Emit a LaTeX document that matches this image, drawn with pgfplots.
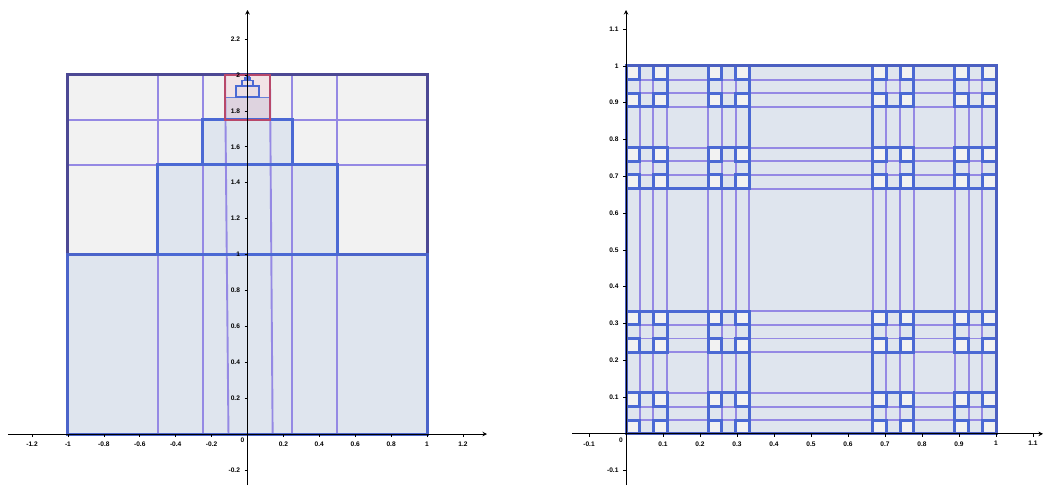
\documentclass[border=0pt]{standalone}
\usepackage{fontspec}
\setmainfont{Liberation Sans}
\usepackage{pgfplots}
\pgfplotsset{compat=1.18}
\usetikzlibrary{arrows.meta}
\definecolor{bluefill}{HTML}{DFE5EE}
\definecolor{grayfill}{HTML}{F2F2F2}
\definecolor{thickblue}{HTML}{4B69D4}
\definecolor{thincol}{HTML}{9589E4}
\definecolor{outercol}{HTML}{4C4894}
\definecolor{redcol}{HTML}{B8486A}
\definecolor{pinkup}{HTML}{F2E3E6}
\definecolor{pinklow}{HTML}{DED3DF}
\definecolor{pinksmall}{HTML}{E9DDE4}
\tikzset{
  thinline/.style={draw=thincol, line width=1.9pt},
  thickline/.style={draw=thickblue, line width=3pt, line join=miter},
}
\pgfplotsset{
  geo/.style={
    scale only axis, axis lines=middle, axis on top,
    axis line style={black, line width=1pt, -{Stealth[length=4.5pt,width=4.5pt]}},
    tick align=outside, major tick length=3pt,
    tick style={black, line width=0.7pt},
    /pgf/number format/assume math mode=true,
    ticklabel style={font=\fontsize{6.6}{7}\selectfont\bfseries},
    xticklabel style={yshift=-1pt},
    yticklabel style={xshift=-1pt},
    xticklabel={\pgfmathprintnumber{\tick}},
    yticklabel={\pgfmathprintnumber{\tick}},
  }
}
\def\Cone{0/0.333333,0.666667/1}
\def\Ctwo{0/0.111111,0.222222/0.333333,0.666667/0.777778,0.888889/1}
\def\Cthree{0/0.037037,0.074074/0.111111,0.222222/0.259259,0.296296/0.333333,0.666667/0.703704,0.740741/0.777778,0.888889/0.925926,0.962963/1}
\def\Ends{0.037037,0.074074,0.111111,0.222222,0.259259,0.296296,0.333333,0.666667,0.703704,0.740741,0.777778,0.888889,0.925926,0.962963}
\begin{document}
\begin{tikzpicture}
\useasboundingbox (0,0) rectangle (1043pt,485pt);
% ---------------- left chart ----------------
\begin{axis}[geo, at={(8pt,0pt)}, anchor=south west,
  width=479pt, height=475pt,
  xmin=-1.334, xmax=1.334, ymin=-0.284, ymax=2.362,
  xtick={-1.2,-1,-0.8,-0.6,-0.4,-0.2,0.2,0.4,0.6,0.8,1,1.2},
  ytick={-0.2,0.2,0.4,0.6,0.8,1,1.2,1.4,1.6,1.8,2,2.2}]
\addplot[draw=none, fill=grayfill] coordinates {(-1,1)(1,1)(1,2)(-1,2)} -- cycle;
\addplot[draw=none, fill=bluefill] coordinates {(-1,0)(1,0)(1,1)(-1,1)} -- cycle;
\addplot[draw=none, fill=bluefill] coordinates {(-0.5,1)(0.5,1)(0.5,1.5)(-0.5,1.5)} -- cycle;
\addplot[draw=none, fill=bluefill] coordinates {(-0.25,1.5)(0.25,1.5)(0.25,1.75)(-0.25,1.75)} -- cycle;
\addplot[draw=none, fill=pinklow] coordinates {(-0.125,1.75)(0.125,1.75)(0.125,1.875)(-0.125,1.875)} -- cycle;
\addplot[draw=none, fill=pinkup] coordinates {(-0.125,1.875)(0.125,1.875)(0.125,2)(-0.125,2)} -- cycle;
% thin lines
\addplot[thinline] coordinates {(-0.5,0)(-0.5,2)};
\addplot[thinline] coordinates {(-0.25,0)(-0.25,2)};
\addplot[thinline] coordinates {(-0.106,0)(-0.125,2)};
\addplot[thinline] coordinates {(0.14,0)(0.125,2)};
\addplot[thinline] coordinates {(0.25,0)(0.25,2)};
\addplot[thinline] coordinates {(0.5,0)(0.5,2)};
\addplot[thinline] coordinates {(-1,1.5)(1,1.5)};
\addplot[thinline] coordinates {(-1,1.75)(1,1.75)};
\addplot[draw=thickblue!85, line width=1.8pt] coordinates {(-0.125,1.875)(0.125,1.875)};
% outer square
\addplot[draw=outercol, line width=3pt, line join=miter] coordinates {(-1,0)(1,0)(1,2)(-1,2)} -- cycle;
% thick boxes
\addplot[draw=thickblue!85!outercol, line width=3pt, line join=miter] coordinates {(-1,0)(1,0)(1,1)(-1,1)} -- cycle;
\addplot[thickline] coordinates {(-0.5,1)(0.5,1)(0.5,1.5)(-0.5,1.5)} -- cycle;
\addplot[thickline] coordinates {(-0.25,1.5)(0.25,1.5)(0.25,1.75)(-0.25,1.75)} -- cycle;
\addplot[draw=redcol, line width=2pt, line join=miter] coordinates {(-0.125,1.75)(0.125,1.75)(0.125,2)(-0.125,2)} -- cycle;
\addplot[draw=thickblue, fill=pinksmall, line width=2pt, line join=miter] coordinates {(-0.0625,1.875)(0.0625,1.875)(0.0625,1.9375)(-0.0625,1.9375)} -- cycle;
\addplot[draw=thickblue, fill=pinksmall, line width=1.8pt, line join=miter] coordinates {(-0.03125,1.9375)(0.03125,1.9375)(0.03125,1.96875)(-0.03125,1.96875)} -- cycle;
\addplot[draw=thickblue, fill=thickblue, line width=1.5pt, line join=miter] coordinates {(-0.015625,1.96875)(0.015625,1.96875)(0.015625,1.984375)(-0.015625,1.984375)} -- cycle;
\addplot[draw=thickblue, fill=thickblue, line width=1.2pt, line join=miter] coordinates {(-0.0078,1.984375)(0.0078,1.984375)(0.0078,1.992)(-0.0078,1.992)} -- cycle;
\node[anchor=north east, font=\fontsize{6.6}{7}\selectfont\bfseries, inner sep=0pt] at (axis cs:0,0) [xshift=-3pt, yshift=-4pt] {0};
\end{axis}
% ---------------- right chart ----------------
\begin{axis}[geo, at={(572pt,0pt)}, anchor=south west,
  width=471pt, height=475pt,
  xmin=-0.146, xmax=1.127, ymin=-0.139, ymax=1.152,
  xtick={-0.1,0.1,0.2,0.3,0.4,0.5,0.6,0.7,0.8,0.9,1,1.1},
  ytick={-0.1,0.1,0.2,0.3,0.4,0.5,0.6,0.7,0.8,0.9,1,1.1}]
\addplot[draw=none, fill=bluefill] coordinates {(0,0)(1,0)(1,1)(0,1)} -- cycle;
\foreach \a/\b in \Cthree {
  \foreach \c/\d in \Cthree {
    \edef\temp{\noexpand\addplot[draw=none, fill=grayfill] coordinates {(\a,\c)(\b,\c)(\b,\d)(\a,\d)} -- cycle;}\temp
  }
}
\foreach \e in \Ends {
  \edef\temp{\noexpand\addplot[thinline] coordinates {(\e,0)(\e,1)};
    \noexpand\addplot[thinline] coordinates {(0,\e)(1,\e)};}\temp
}
\foreach \a/\b in \Cthree {
  \foreach \c/\d in \Cthree {
    \edef\temp{\noexpand\addplot[thickline] coordinates {(\a,\c)(\b,\c)(\b,\d)(\a,\d)} -- cycle;}\temp
  }
}
\foreach \a/\b in \Ctwo {
  \foreach \c/\d in \Ctwo {
    \edef\temp{\noexpand\addplot[thickline] coordinates {(\a,\c)(\b,\c)(\b,\d)(\a,\d)} -- cycle;}\temp
  }
}
\foreach \a/\b in \Cone {
  \foreach \c/\d in \Cone {
    \edef\temp{\noexpand\addplot[thickline] coordinates {(\a,\c)(\b,\c)(\b,\d)(\a,\d)} -- cycle;}\temp
  }
}
\addplot[draw=thickblue!70!outercol, line width=3pt, line join=miter] coordinates {(0,0)(1,0)(1,1)(0,1)} -- cycle;
\node[anchor=north east, font=\fontsize{6.6}{7}\selectfont\bfseries, inner sep=0pt] at (axis cs:0,0) [xshift=-3pt, yshift=-4pt] {0};
\end{axis}
\end{tikzpicture}
\end{document}
